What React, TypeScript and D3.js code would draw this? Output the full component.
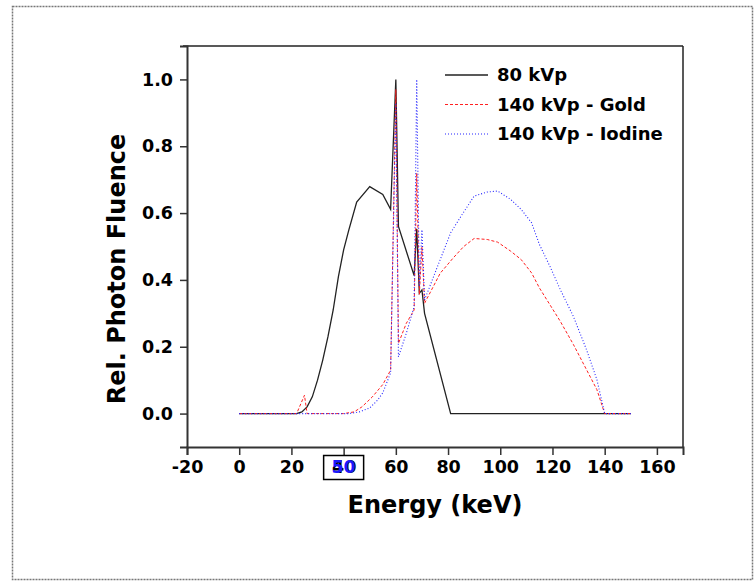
import React, { useEffect, useRef } from "react";
import * as d3 from "d3";

// energies (keV) and relative fluence for each spectrum
const kv80Energy = [0, 22, 24, 26, 28, 30, 32, 34, 36, 38, 40, 42, 45, 50, 55, 58, 60, 61, 67, 68, 69, 70, 71, 81, 150];
const kv80Value = [0, 0, 0.005, 0.02, 0.05, 0.1, 0.16, 0.23, 0.31, 0.41, 0.49, 0.55, 0.633, 0.679, 0.656, 0.611, 1.0, 0.56, 0.413, 0.553, 0.36, 0.37, 0.3, 0, 0];

const goldEnergy = [0, 22, 25, 26, 40, 44, 47, 51, 55, 58, 60, 61, 64, 67, 68, 69, 70, 71, 77, 82, 86, 90, 95, 99, 104, 108, 112, 115, 119, 123, 128, 133, 137, 140, 150];
const goldValue = [0, 0, 0.055, 0, 0, 0.005, 0.02, 0.05, 0.087, 0.13, 0.97, 0.21, 0.27, 0.31, 0.72, 0.356, 0.5, 0.33, 0.42, 0.466, 0.5, 0.524, 0.521, 0.513, 0.486, 0.461, 0.421, 0.376, 0.326, 0.276, 0.207, 0.132, 0.072, 0, 0];

const iodineEnergy = [0, 42, 46, 50, 53, 55, 58, 60, 61, 64, 67, 68, 69, 70, 71, 76, 81, 85, 90, 95, 99, 104, 108, 112, 115, 119, 123, 128, 133, 137, 140, 150];
const iodineValue = [0, 0, 0.005, 0.017, 0.04, 0.062, 0.122, 0.93, 0.17, 0.24, 0.32, 1.0, 0.38, 0.55, 0.34, 0.441, 0.541, 0.591, 0.651, 0.663, 0.666, 0.641, 0.611, 0.571, 0.506, 0.441, 0.371, 0.291, 0.192, 0.102, 0, 0];

const seriesNames = ["80 kVp", "140 kVp - Gold", "140 kVp - Iodine"];
const xTicks = [-20, 0, 20, 40, 60, 80, 100, 120, 140, 160];
const yTicks = [0.0, 0.2, 0.4, 0.6, 0.8, 1.0];

const FONT = "'DejaVu Sans', sans-serif";

export default function App() {
  const ref = useRef<SVGSVGElement>(null);

  useEffect(() => {
    const svg = d3.select(ref.current);
    svg.selectAll("*").remove();

    const left = 187, right = 683, top = 46, bottom = 447;
    const x = d3.scaleLinear().domain([-20, 170]).range([left, right]);
    const y = d3.scaleLinear().domain([-0.1, 1.1]).range([bottom, top]);

    // outer dotted border
    svg.append("rect")
      .attr("x", 12.5).attr("y", 6.5)
      .attr("width", 740).attr("height", 573)
      .attr("fill", "none")
      .attr("stroke", "#777")
      .attr("stroke-width", 1.5)
      .attr("stroke-dasharray", "2,1");

    // top + right frame lines
    svg.append("line").attr("x1", left - 4).attr("x2", right).attr("y1", top).attr("y2", top)
      .attr("stroke", "#222").attr("stroke-width", 1.5);
    svg.append("line").attr("x1", right).attr("x2", right).attr("y1", top).attr("y2", bottom)
      .attr("stroke", "#222").attr("stroke-width", 1.5);

    // bottom axis
    const xAxis = svg.append("g").attr("transform", `translate(0,${bottom})`);
    xAxis.call(
      d3.axisBottom(x).tickValues(d3.range(-20, 171, 10)).tickSize(5).tickFormat(() => "")
    );
    xAxis.call(d3.axisBottom(x).tickValues(xTicks).tickSize(8).tickFormat((d) => String(d)));
    xAxis.selectAll("path").attr("stroke", "#333").attr("stroke-width", 2);
    xAxis.selectAll("line").attr("stroke", "#333").attr("stroke-width", 1.5);
    xAxis.selectAll("text")
      .attr("fill", "#000")
      .attr("y", 26)
      .attr("dy", 0)
      .style("font-family", FONT)
      .style("font-weight", "bold")
      .style("font-size", "17.5px");

    // left axis
    const yAxis = svg.append("g").attr("transform", `translate(${left},0)`);
    yAxis.call(
      d3.axisLeft(y).tickValues(d3.range(-1, 12).map((d) => d / 10)).tickSize(4).tickFormat(() => "")
    );
    yAxis.call(d3.axisLeft(y).tickValues(yTicks).tickSize(7).tickFormat(d3.format(".1f")));
    yAxis.selectAll("path").attr("stroke", "#333").attr("stroke-width", 2);
    yAxis.selectAll("line").attr("stroke", "#333").attr("stroke-width", 1.5);
    yAxis.selectAll("text")
      .attr("fill", "#000")
      .attr("x", -14)
      .style("font-family", FONT)
      .style("font-weight", "bold")
      .style("font-size", "17.5px");

    // the boxed "50" sitting over the 40 label
    svg.append("rect")
      .attr("x", x(40) - 20).attr("y", 455.5)
      .attr("width", 40).attr("height", 24)
      .attr("fill", "none").attr("stroke", "#000").attr("stroke-width", 1.5);
    svg.append("text")
      .attr("x", x(40)).attr("y", bottom + 26)
      .attr("text-anchor", "middle")
      .attr("fill", "#1a1aff")
      .style("font-family", FONT)
      .style("font-weight", "bold")
      .style("font-size", "17.5px")
      .text("50");

    // axis titles
    svg.append("text")
      .attr("x", 435).attr("y", 513)
      .attr("text-anchor", "middle")
      .style("font-family", FONT).style("font-weight", "bold").style("font-size", "24px")
      .text("Energy (keV)");
    svg.append("text")
      .attr("transform", "translate(125,269) rotate(-90)")
      .attr("text-anchor", "middle")
      .style("font-family", FONT).style("font-weight", "bold").style("font-size", "24px")
      .text("Rel. Photon Fluence");

    const line = d3.line<[number, number]>().x((d) => x(d[0])).y((d) => y(d[1]));

    const series = [
      { pts: d3.zip(kv80Energy, kv80Value), color: "#222", dash: null, width: 1.3 },
      { pts: d3.zip(goldEnergy, goldValue), color: "#ff2020", dash: "3,2", width: 1 },
      { pts: d3.zip(iodineEnergy, iodineValue), color: "#2424ff", dash: "1,2", width: 1.1 },
    ];

    series.forEach((s) => {
      svg.append("path")
        .datum(s.pts as [number, number][])
        .attr("d", line)
        .attr("fill", "none")
        .attr("stroke", s.color)
        .attr("stroke-width", s.width)
        .attr("stroke-dasharray", s.dash);
    });

    // legend
    const legend = svg.append("g");
    series.forEach((s, i) => {
      const ly = 75 + i * 29.5;
      legend.append("line")
        .attr("x1", 445).attr("x2", 488).attr("y1", ly).attr("y2", ly)
        .attr("stroke", s.color).attr("stroke-width", s.width)
        .attr("stroke-dasharray", s.dash);
      legend.append("text")
        .attr("x", 497).attr("y", ly + 6)
        .style("font-family", FONT).style("font-weight", "bold").style("font-size", "18px")
        .text(seriesNames[i]);
    });
  }, []);

  return (
    <svg
      ref={ref}
      width={755}
      height={581}
      style={{ position: "absolute", left: 0, top: 0, background: "#fff" }}
    />
  );
}
